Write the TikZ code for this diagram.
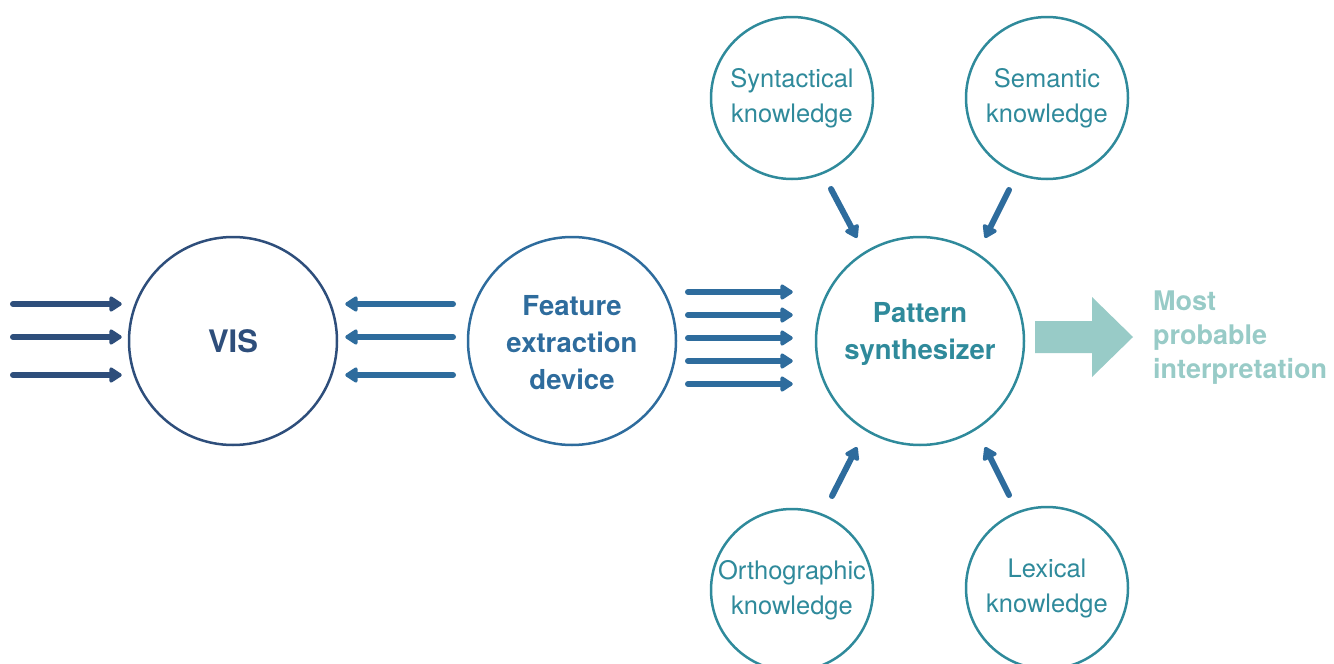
\documentclass[tikz,border=0pt]{standalone}
\usepackage{fontspec}
\setmainfont{TeX Gyre Heros}
\usetikzlibrary{arrows.meta,calc}
\definecolor{navy}{HTML}{2E4E7B}
\definecolor{steel}{HTML}{2E6C9D}
\definecolor{teal}{HTML}{2F8A9B}
\definecolor{lteal}{HTML}{98CBC7}
\tikzset{
  bigc/.style={circle,draw,line width=2.5pt,minimum size=208pt,inner sep=0pt,align=center,
    font=\fontsize{27.5}{37}\selectfont\bfseries},
  smallc/.style={circle,draw=teal,line width=2.5pt,minimum size=162pt,inner sep=0pt,align=center,
    text=teal,font=\fontsize{25.5}{35}\selectfont},
  thickarrow/.style={line width=6pt,line cap=round,-{Triangle[length=14pt,width=17pt,round=false]}},
}
\begin{document}
\begin{tikzpicture}[x=1pt,y=-1pt]
\useasboundingbox (0,0) rectangle (1334,664);
% main circles
\node[bigc,draw=navy,text=navy,font=\fontsize{31}{37}\selectfont\bfseries] (vis) at (233,341) {VIS};
\node[bigc,draw=steel,text=steel] (feat) at (572,341) {};
\node[text=steel,align=center,font=\fontsize{27.5}{37}\selectfont\bfseries] (featlabel) at (572,343) {Feature\\extraction\\device};
\node[bigc,draw=teal] (pat) at (920,341) {};
\node[text=teal,align=center,font=\fontsize{27.5}{37}\selectfont\bfseries] (patlabel) at (920,334) {Pattern\\synthesizer};
% knowledge circles
\node[smallc] (syn) at (792,98) {Syntactical\\knowledge};
\node[smallc] (sem) at (1047,98) {Semantic\\knowledge};
\node[smallc] (orth) at (792,590) {Orthographic\\knowledge};
\node[smallc] (lex) at (1047,588) {Lexical\\knowledge};
% inputs to VIS
\foreach \i/\y in {1/304,2/337,3/375}{
  \coordinate (in\i) at (13,\y);
  \draw[thickarrow,draw=navy,fill=navy,shorten >=6pt] (in\i) -- (in\i -| vis.west);
}
% feature -> VIS
\foreach \i/\y in {1/304,2/337,3/375}{
  \coordinate (fv\i) at (453,\y);
  \draw[thickarrow,draw=steel,fill=steel,shorten >=7pt] (fv\i) -- (fv\i -| vis.east);
}
% feature -> pattern
\foreach \i/\y in {1/292,2/315,3/338,4/361,5/384}{
  \coordinate (fp\i) at (688,\y);
  \draw[thickarrow,draw=steel,fill=steel,shorten >=22pt] (fp\i) -- (fp\i -| pat.west);
}
% knowledge -> pattern
\coordinate (synS) at (831,189); \coordinate (synT) at (857,238);
\coordinate (semS) at (1009,190); \coordinate (semT) at (985,238);
\coordinate (orthS) at (832,496); \coordinate (orthT) at (857,447);
\coordinate (lexS) at (1009,495); \coordinate (lexT) at (985,447);
\draw[thickarrow,draw=steel,fill=steel] (synS) -- (synT);
\draw[thickarrow,draw=steel,fill=steel] (semS) -- (semT);
\draw[thickarrow,draw=steel,fill=steel] (orthS) -- (orthT);
\draw[thickarrow,draw=steel,fill=steel] (lexS) -- (lexT);
% output arrow
\fill[lteal] (1035,321) -- (1092,321) -- (1092,297) -- (1133,337) -- (1092,377) -- (1092,353) -- (1035,353) -- cycle;
\node[anchor=west,text=lteal,align=left,inner sep=0pt,font=\fontsize{27}{34}\selectfont\bfseries] (out) at (1153,338) {Most\\probable\\interpretation};
\end{tikzpicture}
\end{document}
